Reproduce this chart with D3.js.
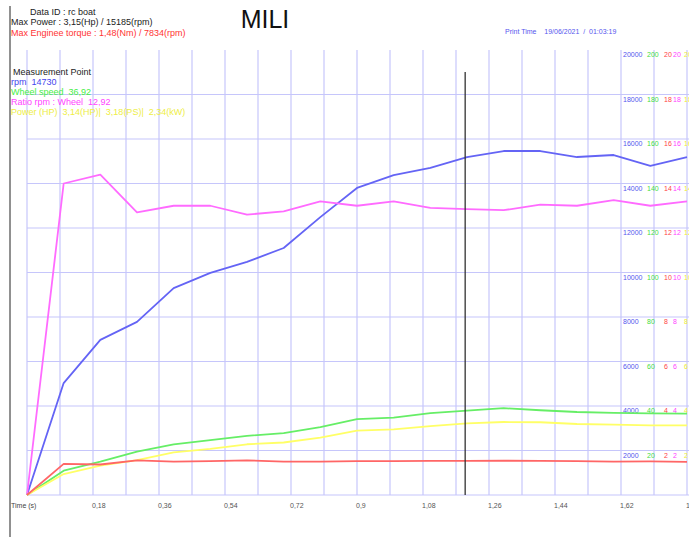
<!DOCTYPE html>
<html>
<head>
<meta charset="utf-8">
<script src="https://cdn.jsdelivr.net/npm/d3@7"></script>
<style>
  body { margin: 0; background: #fff; }
  svg { display: block; font-family: "Liberation Sans", Arial, sans-serif; }
</style>
</head>
<body>
<svg id="chart" width="689" height="537"></svg>
<script>
// samples every 0.1 s
const times = [0, 0.1, 0.2, 0.3, 0.4, 0.5, 0.6, 0.7, 0.8, 0.9, 1.0, 1.1, 1.2, 1.3, 1.4, 1.5, 1.6, 1.7, 1.8];
const rpm = [0, 5030, 6970, 7780, 9300, 9980, 10480, 11100, 12490, 13800, 14380, 14700, 15190, 15460, 15460, 15190, 15280, 14790, 15190];
const wheelSpeed = [0, 10.9, 15.0, 19.5, 22.8, 24.7, 26.6, 27.8, 30.5, 34.1, 34.8, 36.8, 37.9, 39.0, 38.1, 37.3, 36.9, 36.7, 36.6];
const ratio = [0, 14.0, 14.4, 12.7, 13.0, 13.0, 12.6, 12.75, 13.2, 13.0, 13.2, 12.9, 12.85, 12.8, 13.05, 13.0, 13.25, 13.0, 13.2];
const torque = [0, 1.4, 1.37, 1.56, 1.5, 1.52, 1.56, 1.5, 1.5, 1.52, 1.52, 1.53, 1.53, 1.54, 1.53, 1.52, 1.5, 1.51, 1.49];
const power = [0, 0.94, 1.32, 1.57, 1.92, 2.07, 2.28, 2.36, 2.58, 2.89, 2.95, 3.1, 3.22, 3.28, 3.27, 3.19, 3.16, 3.13, 3.13];

const xTicks = [0.18, 0.36, 0.54, 0.72, 0.9, 1.08, 1.26, 1.44, 1.62, 1.8];
const rpmTicks = [2000, 4000, 6000, 8000, 10000, 12000, 14000, 16000, 18000, 20000];
const speedTicks = [20, 40, 60, 80, 100, 120, 140, 160, 180, 200];
const smallTicks = [2, 4, 6, 8, 10, 12, 14, 16, 18, 20];
const cursorTime = 1.195;

const svg = d3.select("#chart");

const x = d3.scaleLinear().domain([0, 1.8]).range([27, 687]);
const yRpm = d3.scaleLinear().domain([0, 20000]).range([495, 50]);
const ySpeed = d3.scaleLinear().domain([0, 200]).range([495, 50]);
const ySmall = d3.scaleLinear().domain([0, 20]).range([495, 50]);

const gridColor = "#c6c6fb";

// grid
svg.append("g")
  .selectAll("line")
  .data(d3.range(0, 21).map(i => i * 0.09))
  .enter()
  .append("line")
  .attr("x1", d => x(d)).attr("x2", d => x(d))
  .attr("y1", 50).attr("y2", 495)
  .attr("stroke", gridColor)
  .attr("stroke-width", 1.2);

svg.append("g")
  .selectAll("line")
  .data([0].concat(rpmTicks.slice(0, 9)))
  .enter()
  .append("line")
  .attr("x1", 27).attr("x2", 689)
  .attr("y1", d => yRpm(d)).attr("y2", d => yRpm(d))
  .attr("stroke", gridColor)
  .attr("stroke-width", 1.2);

// left black line
svg.append("line")
  .attr("x1", 10).attr("x2", 10).attr("y1", 6).attr("y2", 537)
  .attr("stroke", "#222").attr("stroke-width", 1);

// x labels
const fmt = d => String(d).replace(".", ",");
svg.append("g")
  .selectAll("text")
  .data(xTicks)
  .enter()
  .append("text")
  .attr("x", d => x(d) - 1)
  .attr("y", 508)
  .attr("font-size", 7)
  .attr("fill", "#555")
  .text(fmt);
svg.append("text")
  .attr("x", 11).attr("y", 508)
  .attr("font-size", 7).attr("fill", "#444")
  .text("Time (s)");

// right labels
function rightLabels(ticks, scale, xPos, color) {
  svg.append("g")
    .selectAll("text")
    .data(ticks)
    .enter()
    .append("text")
    .attr("x", xPos)
    .attr("y", d => scale(d) + 7)
    .attr("font-size", 7)
    .attr("fill", color)
    .text(d => d);
}
rightLabels(rpmTicks, yRpm, 623, "#5555ee");
rightLabels(speedTicks, ySpeed, 647, "#44dd44");
rightLabels(smallTicks, ySmall, 664, "#ff4444");
rightLabels(smallTicks, ySmall, 673, "#ff44ff");
rightLabels(smallTicks, ySmall, 684, "#eeee33");

// series
const series = [
  { values: rpm, scale: yRpm, color: "#6464f5" },
  { values: ratio, scale: ySmall, color: "#ff6bff" },
  { values: wheelSpeed, scale: ySpeed, color: "#66ee66" },
  { values: power, scale: ySmall, color: "#ffff66" },
  { values: torque, scale: ySmall, color: "#ff6666" }
];
series.forEach(s => {
  const line = d3.line()
    .x((d, i) => x(times[i]))
    .y(d => s.scale(d));
  svg.append("path")
    .datum(s.values)
    .attr("d", line)
    .attr("fill", "none")
    .attr("stroke", s.color)
    .attr("stroke-width", 1.8)
    .attr("stroke-linejoin", "round");
});

// cursor
svg.append("line")
  .attr("x1", x(cursorTime)).attr("x2", x(cursorTime))
  .attr("y1", 72).attr("y2", 495)
  .attr("stroke", "#333").attr("stroke-width", 1.3);

// header
svg.append("text").attr("x", 30).attr("y", 15).attr("font-size", 9).attr("fill", "#222")
  .text("Data ID  : rc boat");
svg.append("text").attr("x", 11).attr("y", 25).attr("font-size", 9).attr("fill", "#222")
  .text("Max Power : 3,15(Hp) / 15185(rpm)");
svg.append("text").attr("x", 11).attr("y", 36).attr("font-size", 9).attr("fill", "#ff3333")
  .text("Max Enginee torque : 1,48(Nm) / 7834(rpm)");
svg.append("text").attr("x", 265).attr("y", 28).attr("font-size", 25).attr("text-anchor", "middle").attr("fill", "#111")
  .text("MILI");
svg.append("text").attr("x", 505).attr("y", 34).attr("font-size", 7).attr("fill", "#5555ee")
  .attr("xml:space", "preserve")
  .text("Print Time    19/06/2021  /  01:03:19");

// measurement point
const legend = [
  { t: "Measurement Point", c: "#222", x: 13 },
  { t: "rpm  14730", c: "#4444ee", x: 11 },
  { t: "Wheel speed  36,92", c: "#44ee44", x: 11 },
  { t: "Ratio rpm : Wheel  12,92", c: "#ff44ff", x: 11 },
  { t: "Power (HP)  3,14(HP)|  3,18(PS)|  2,34(kW)", c: "#eeee44", x: 11 }
];
svg.append("g")
  .selectAll("text")
  .data(legend)
  .enter()
  .append("text")
  .attr("x", d => d.x)
  .attr("y", (d, i) => 75 + i * 10)
  .attr("font-size", 9)
  .attr("fill", d => d.c)
  .attr("xml:space", "preserve")
  .text(d => d.t);
</script>
</body>
</html>
